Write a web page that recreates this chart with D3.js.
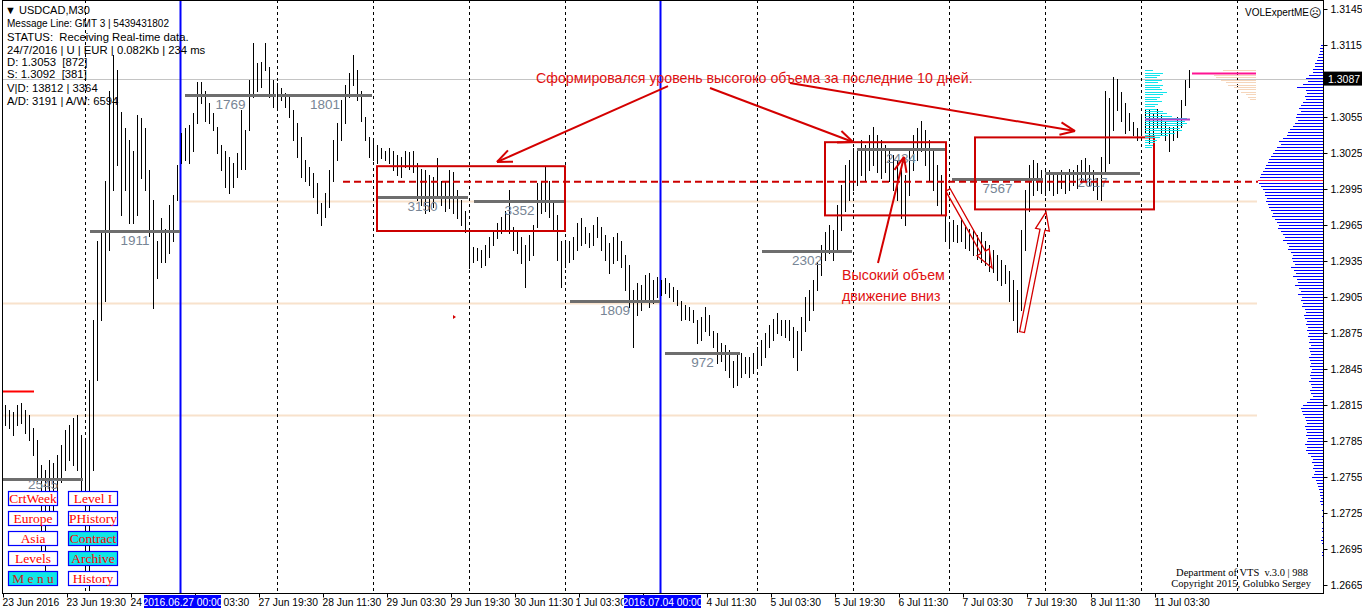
<!DOCTYPE html>
<html><head><meta charset="utf-8">
<script src="https://cdn.jsdelivr.net/npm/d3@7"></script>
<style>
body{margin:0;background:#fff;overflow:hidden}
text{white-space:pre}
</style>
</head><body>
<svg id="c" width="1362" height="612" font-family="Liberation Sans, Arial, sans-serif"></svg>
<script>
// ---------------- DATA ----------------
const symbol = "USDCAD,M30";
const barHigh = [
1.2815,1.2811,1.2809,1.2815,1.2817,1.2811,1.2807,1.2796,1.2786,1.2765,1.2761,1.2769,1.2767,1.2773,1.2782,1.2794,1.2798,1.2804,1.2807,1.2790,
1.2786,1.2836,1.2886,1.2952,1.2961,1.3002,1.3077,1.3107,1.3094,1.3059,1.3046,1.3036,1.3027,1.3057,1.3054,1.3046,1.3011,1.2986,1.2952,1.2971,1.2962,1.2982,1.2990,1.3015,
1.3042,1.3046,1.3048,1.3058,1.3084,1.3084,1.3077,1.3067,1.3058,1.3047,1.3032,1.3027,1.3022,1.3017,1.3025,1.3061,1.3044,1.3086,1.3117,1.3100,1.3101,1.3117,1.3097,1.3086,
1.3083,1.3079,1.3075,1.3072,1.3061,1.3050,1.3038,1.3019,1.3013,1.3008,1.3000,1.2983,1.2992,1.3011,1.3036,1.3050,1.3069,1.3082,1.3092,1.3107,1.3094,1.3077,1.3055,1.3038,
1.3036,1.3032,1.3029,1.3027,1.3029,1.3027,1.3023,1.3022,1.3027,1.3026,1.3027,1.3017,1.3012,1.3011,1.3007,1.3005,1.3021,1.3002,1.3001,1.3011,1.3009,1.2994,1.2986,1.2977,
1.2959,1.2947,1.2946,1.2944,1.2948,1.2955,1.2961,1.2967,1.2972,1.2977,1.2994,1.2963,1.2959,1.2955,1.2948,1.2957,1.2965,1.3000,1.3002,1.3013,1.3002,1.2986,1.2973,1.2952,
1.2950,1.2952,1.2955,1.2967,1.2971,1.2963,1.2958,1.2965,1.2972,1.2963,1.2957,1.2950,1.2955,1.2958,1.2952,1.2940,1.2932,1.2911,1.2917,1.2915,1.2923,1.2925,1.2919,1.2922,
1.2919,1.2921,1.2917,1.2913,1.2911,1.2902,1.2898,1.2897,1.2894,1.2886,1.2888,1.2897,1.2890,1.2877,1.2875,1.2867,1.2865,1.2861,1.2852,1.2857,1.2858,1.2855,1.2855,1.2858,
1.2863,1.2869,1.2875,1.2882,1.2887,1.2892,1.2886,1.2886,1.2886,1.2880,1.2877,1.2888,1.2905,1.2911,1.2919,1.2934,1.2948,1.2959,1.2965,1.2961,1.2982,1.2998,1.3015,1.3019,
1.3029,1.3027,1.3036,1.3032,1.3040,1.3047,1.3040,1.3036,1.3032,1.3027,1.3023,1.3019,1.3011,1.3007,1.3027,1.3040,1.3046,1.3052,1.3044,1.3036,1.3027,1.3015,1.3007,1.2990,
1.2967,1.2969,1.2965,1.2971,1.2965,1.2962,1.2961,1.2957,1.2959,1.2952,1.2948,1.2944,1.2940,1.2936,1.2932,1.2927,1.2919,1.2911,1.2961,1.2994,1.3015,1.3019,1.3017,1.3011,
1.3012,1.3011,1.3009,1.3007,1.3011,1.3009,1.3012,1.3011,1.3015,1.3019,1.3021,1.3015,1.3011,1.3004,1.3022,1.3077,1.3071,1.3088,1.3087,1.3076,1.3067,1.3058,1.3051,1.3046,
1.3057,1.3061,1.3061,1.3058,1.3062,1.3057,1.3052,1.3047,1.3047,1.3055,1.3069,1.3086,1.3094];
const barLow = [
1.2798,1.2796,1.2790,1.2798,1.2800,1.2792,1.2786,1.2773,1.2752,1.2686,1.2676,1.2715,1.2723,1.2744,1.2751,1.2761,1.2769,1.2765,1.2761,1.2744,
1.2673,1.2661,1.2761,1.2836,1.2886,1.2902,1.2944,1.2994,1.3015,1.2973,1.2994,1.2967,1.2967,1.2973,1.3004,1.2994,1.2956,1.2896,1.2921,1.2934,1.2934,1.2942,1.2952,1.2986,
1.3017,1.3019,1.3017,1.3027,1.3050,1.3067,1.3052,1.3050,1.3044,1.3025,1.3011,1.2997,1.2992,1.2997,1.3005,1.3012,1.3012,1.3044,1.3072,1.3077,1.3080,1.3094,1.3072,1.3063,
1.3063,1.3069,1.3063,1.3055,1.3036,1.3022,1.3005,1.3002,1.2998,1.2988,1.2975,1.2965,1.2972,1.2980,1.3002,1.3019,1.3036,1.3050,1.3072,1.3082,1.3069,1.3052,1.3036,1.3022,
1.3019,1.3017,1.3021,1.3019,1.3017,1.3011,1.3007,1.3005,1.3013,1.3012,1.3009,1.2986,1.2982,1.2975,1.2977,1.2980,1.2990,1.2982,1.2977,1.2979,1.2975,1.2971,1.2965,1.2959,
1.2929,1.2934,1.2936,1.2930,1.2932,1.2938,1.2948,1.2954,1.2958,1.2961,1.2958,1.2944,1.2942,1.2933,1.2913,1.2936,1.2940,1.2963,1.2975,1.2977,1.2972,1.2961,1.2936,1.2913,
1.2930,1.2934,1.2937,1.2944,1.2948,1.2950,1.2947,1.2948,1.2955,1.2944,1.2936,1.2925,1.2933,1.2936,1.2930,1.2911,1.2897,1.2863,1.2890,1.2894,1.2902,1.2897,1.2900,1.2905,
1.2907,1.2908,1.2905,1.2902,1.2898,1.2886,1.2887,1.2886,1.2884,1.2867,1.2869,1.2877,1.2873,1.2863,1.2850,1.2852,1.2844,1.2838,1.2830,1.2832,1.2838,1.2842,1.2838,1.2842,
1.2847,1.2848,1.2855,1.2863,1.2869,1.2875,1.2873,1.2872,1.2869,1.2855,1.2844,1.2861,1.2877,1.2886,1.2894,1.2911,1.2923,1.2936,1.2942,1.2936,1.2944,1.2961,1.2977,1.2986,
1.2994,1.2998,1.3007,1.3002,1.3011,1.3015,1.3009,1.3004,1.3009,1.3002,1.2994,1.2986,1.2971,1.2965,1.2990,1.3011,1.3019,1.3027,1.3015,1.3002,1.2994,1.2982,1.2973,1.2952,
1.2948,1.2952,1.2951,1.2952,1.2946,1.2944,1.2940,1.2937,1.2934,1.2932,1.2927,1.2926,1.2919,1.2915,1.2917,1.2902,1.2886,1.2876,1.2894,1.2944,1.2977,1.2990,1.2994,1.2992,
1.2990,1.2994,1.2990,1.2992,1.2996,1.2992,1.2994,1.2998,1.2996,1.3001,1.3002,1.2998,1.2994,1.2987,1.2986,1.3009,1.3017,1.3044,1.3061,1.3052,1.3042,1.3044,1.3040,1.3036,
1.3040,1.3042,1.3033,1.3036,1.3047,1.3040,1.3036,1.3027,1.3036,1.3038,1.3047,1.3065,1.3080];

const priceTicks = [1.3145,1.3115,1.3085,1.3055,1.3025,1.2995,1.2965,1.2935,1.2905,1.2875,1.2845,1.2815,1.2785,1.2755,1.2725,1.2695,1.2665];
const currentPrice = 1.3087;
const timeTickIdx = d3.range(19).map(k => -0.5 + 16 * k);
// labels as they remain visible next to the highlighted week-start boxes
const timeLabels = ["23 Jun 2016","23 Jun 19:30","24","03:30","27 Jun 19:30","28 Jun 11:30","29 Jun 03:30","29 Jun 19:30","30 Jun 11:30","1 Jul 03:30","","4 Jul 11:30","5 Jul 03:30","5 Jul 19:30","6 Jul 11:30","7 Jul 03:30","7 Jul 19:30","8 Jul 11:30","11 Jul 03:30"];
const weekStartIdx = [44, 164];
const weekStartLabels = ["2016.06.27 00:00", "2016.07.04 00:00"];
const daySepIdx = [20,68,92,116,140,188,212,236,260,284,308];

const levelLabels = ["2545","1911","1769","1801","3150","3352","1809","972","2302","2434","7567","2617"];
const levelPrices = [1.2753,1.2960,1.3073,1.3073,1.2988,1.2985,1.2902,1.2858,1.2943,1.3028,1.3003,1.3008];
const levelFrom = [-0.5,21.25,45,68.25,93,117.25,141.25,165,189.25,213,236.75,260];
const levelTo = [19.5,43.75,67.75,91.75,115.75,140,163.75,183.75,211.75,235,259.5,283.75];

const beigePrices = [1.2985, 1.2900, 1.2807];
const beigeFrom = [44, -0.75, -0.75];
const redDashPrice = 1.3001;
const redShortPrice = 1.2827;
const dLevel = 1.3053, sLevel = 1.3092;

const boxFrom = [93, 205, 242.5], boxTo = [140, 235.25, 287.25];
const boxTop = [1.3014, 1.3034, 1.3038], boxBottom = [1.2960, 1.2973, 1.2978];

// long-term volume profile (rows from 1.3115 down, step 0.00025)
const profileTop = 1.3115, profileStep = 0.00025;
const profileVol = [2,3,3,4,5,6,8,8,10,10,14,17,15,20,26,17,16,18,17,20,22,24,22,26,
27,25,28,30,33,35,36,40,44,42,46,48,50,52,54,55,57,58,60,62,63,65,
64,62,60,58,58,56,57,55,54,52,50,51,48,46,44,45,42,40,38,40,36,34,35,32,30,31,
30,28,32,29,27,30,26,25,28,24,22,25,21,
22,20,21,18,17,19,18,16,17,15,16,14,15,13,14,12,14,13,12,14,13,12,13,11,12,13,12,14,12,11,13,12,10,13,
16,20,22,21,20,18,17,16,18,17,16,17,15,16,18,16,17,15,12,10,11,9,10,8,9,11,7,6,5,4,3,3,2,3,2,
0,1,0,1,0,1,0,1,1,0,1,2,1,0,0,1,1];
// current-day profile (rows from 1.3094 down, step 0.0002)
const dayTop = 1.3094, dayStep = 0.0002;
const dayVol = [8,18,15,12,17,13,18,15,17,22,18,15,12,17,13,10,12,18,22,27,42,40,42,38,35,37,30,23,15,12,10,8,7];
const prevVol = [33,45,42,40,35,30,28,22,18,15,10,8,6];

const infoLines = ["STATUS:  Receiving Real-time data.","24/7/2016 | U | EUR | 0.082Kb | 234 ms","D: 1.3053  [872]","S: 1.3092  [381]","V|D: 13812 | 3364","A/D: 3191 | A/W: 6594"];
const buttonNames = ["CrtWeek","Level I","Europe","PHistory","Asia","Contract","Levels","Archive","M e n u","History"];
const buttonOn = [0,0,0,0,0,1,0,1,1,0];

// annotations in data units [index, price]
const arrows = [[[165.75,1.30808],[123,1.30175]],[[176.25,1.30792],[212,1.30342]],[[196.25,1.30833],[267.5,1.30433]],[[218.25,1.29333],[224.75,1.30217]]];
const hollowArrows = [[[235.75,1.29942],[246.75,1.29292]],[[254.25,1.28758],[260.25,1.29758]]];
const noteMain = "Сформировался уровень высогоко объема за последние 10 дней.";
const noteLow = ["Высокий объем","движение вниз"];

// ---------------- DRAW ----------------
const SANS = "Liberation Sans, Arial, sans-serif", SERIF = "Liberation Serif, Times New Roman, serif";
const svg = d3.select("#c");
const W = 1362, H = 612, axisX = 1323, axisY = 593;
const x = d3.scaleLinear().domain([0, 296]).range([5, 1189]);
const y = d3.scaleLinear().domain([1.2665, 1.3145]).range([585, 9]);
const px = v => Math.round(x(v)) + 0.5;
const py = v => Math.round(y(v)) + 0.5;
const RED = "#d40000";

svg.append("rect").attr("width", W).attr("height", H).attr("fill", "#fff");
const plot = svg.append("g");

// beige levels
beigePrices.forEach((p, i) => {
  plot.append("line").attr("x1", x(beigeFrom[i])).attr("x2", 1257)
    .attr("y1", py(p)).attr("y2", py(p)).attr("stroke", "#f8e2cc").attr("stroke-width", 2);
});
// current price line
plot.append("line").attr("x1", 2).attr("x2", axisX).attr("y1", py(currentPrice)).attr("y2", py(currentPrice))
  .attr("stroke", "#c4c4c4").attr("stroke-width", 1);

// day separators
plot.selectAll(".sep").data(daySepIdx).join("line")
  .attr("x1", d => px(d)).attr("x2", d => px(d)).attr("y1", 0).attr("y2", axisY)
  .attr("stroke", "#000").attr("stroke-dasharray", "3,3").attr("stroke-width", 1);
plot.selectAll(".wk").data(weekStartIdx).join("line")
  .attr("x1", d => Math.round(x(d)) - 0.5).attr("x2", d => Math.round(x(d)) - 0.5).attr("y1", 0).attr("y2", axisY)
  .attr("stroke", "#0000ff").attr("stroke-width", 2);

// price bars
plot.append("g").attr("shape-rendering", "crispEdges").selectAll("line").data(barHigh).join("line")
  .attr("x1", (d, i) => px(i)).attr("x2", (d, i) => px(i))
  .attr("y1", d => y(d)).attr("y2", (d, i) => y(barLow[i]) + 1)
  .attr("stroke", "#000").attr("stroke-width", 1);

// level lines
levelPrices.forEach((p, i) => {
  plot.append("line").attr("x1", x(levelFrom[i])).attr("x2", x(levelTo[i]))
    .attr("y1", py(p)).attr("y2", py(p)).attr("stroke", "#6e6e6e").attr("stroke-width", 3);
  plot.append("text").attr("x", (x(levelFrom[i]) + x(levelTo[i])) / 2).attr("y", Math.min(y(p) + 14, 489))
    .attr("text-anchor", "middle").attr("font-size", 13.5).attr("fill", "#778595").text(levelLabels[i]);
});

// small marker
plot.append("path").attr("d", `M${x(112)},${y(1.28883)-2} l3,2 l-3,2 z`).attr("fill", RED);

// red boxes
boxFrom.forEach((b, i) => {
  plot.append("rect").attr("x", x(b)).attr("y", y(boxTop[i]))
    .attr("width", x(boxTo[i]) - x(b)).attr("height", y(boxBottom[i]) - y(boxTop[i]))
    .attr("fill", "none").attr("stroke", "#cc0000").attr("stroke-width", 2);
});
// red dashed line
plot.append("line").attr("x1", x(84.5)).attr("x2", x(313.25)).attr("y1", y(redDashPrice)).attr("y2", y(redDashPrice))
  .attr("stroke", "#cc0000").attr("stroke-width", 2).attr("stroke-dasharray", "7,4");
plot.append("line").attr("x1", x(-0.5)).attr("x2", x(7.25)).attr("y1", py(redShortPrice)).attr("y2", py(redShortPrice))
  .attr("stroke", "#ff0000").attr("stroke-width", 2);

// long-term volume profile (right aligned at axis)
const vx = d3.scaleLinear().domain([0, 65]).range([0, 65]);
const prof = plot.append("g").attr("shape-rendering", "crispEdges");
const pocIdx = profileVol.indexOf(d3.max(profileVol));
profileVol.forEach((v, k) => {
  if (!v) return;
  const yy = Math.round(y(profileTop - k * profileStep)) + 0.5;
  prof.append("line").attr("x1", axisX - vx(v)).attr("x2", axisX).attr("y1", yy).attr("y2", yy)
    .attr("stroke", k === pocIdx ? "#ff2050" : "#0000ff").attr("stroke-width", 1);
});
// current day profile
dayVol.forEach((v, k) => {
  const yy = Math.round(y(dayTop - k * dayStep)) + 0.5;
  prof.append("line").attr("x1", x(285)).attr("x2", x(285) + vx(v)).attr("y1", yy).attr("y2", yy)
    .attr("stroke", "#10e4ec").attr("stroke-width", 1);
});
prevVol.forEach((v, k) => {
  const yy = Math.round(y(dayTop - k * dayStep)) + 0.5;
  prof.append("line").attr("x1", x(312.75) - vx(v)).attr("x2", x(312.75)).attr("y1", yy).attr("y2", yy)
    .attr("stroke", "#f5d6bc").attr("stroke-width", 1);
});
plot.append("line").attr("x1", x(296.75)).attr("x2", x(312.75)).attr("y1", py(sLevel)).attr("y2", py(sLevel))
  .attr("stroke", "#ff1493").attr("stroke-width", 2);
plot.append("line").attr("x1", x(285)).attr("x2", x(296.25)).attr("y1", py(dLevel)).attr("y2", py(dLevel))
  .attr("stroke", "#b040c8").attr("stroke-width", 2);

// annotations
const ann = svg.append("g");
function arrow(a, b) {
  const x1 = x(a[0]), y1 = y(a[1]), x2 = x(b[0]), y2 = y(b[1]);
  ann.append("line").attr("x1", x1).attr("y1", y1).attr("x2", x2).attr("y2", y2).attr("stroke", RED).attr("stroke-width", 2);
  const ang = Math.atan2(y2 - y1, x2 - x1), L = 16;
  [-0.4, 0.4].forEach(s => {
    ann.append("line").attr("x1", x2).attr("y1", y2)
      .attr("x2", x2 - L * Math.cos(ang + s)).attr("y2", y2 - L * Math.sin(ang + s))
      .attr("stroke", RED).attr("stroke-width", 2);
  });
}
arrows.forEach(a => arrow(a[0], a[1]));
function hollow(a, b) {
  const x1 = x(a[0]), y1 = y(a[1]), x2 = x(b[0]), y2 = y(b[1]);
  const L = Math.hypot(x2 - x1, y2 - y1), ux = (x2 - x1) / L, uy = (y2 - y1) / L, nx = -uy, ny = ux;
  const pts = [[0,-2.5],[L-18,-2.5],[L-18,-7],[L,0],[L-18,7],[L-18,2.5],[0,2.5]]
    .map(([t, s]) => [x1 + ux * t + nx * s, y1 + uy * t + ny * s]);
  ann.append("path").attr("d", "M" + pts.map(p => p.join(",")).join("L") + "Z")
    .attr("fill", "none").attr("stroke", RED).attr("stroke-width", 1.3);
}
hollowArrows.forEach(a => hollow(a[0], a[1]));
ann.append("text").attr("x", x(132.75)).attr("y", y(1.30833)).attr("font-size", 14.2).attr("fill", "#e01010").text(noteMain);
noteLow.forEach((t, i) => ann.append("text").attr("x", x(209.25)).attr("y", y(i ? 1.29017 : 1.29192))
  .attr("font-size", 14.2).attr("fill", "#e01010").text(t));

// info text (top-left)
const info = svg.append("g").attr("fill", "#000");
info.append("text").attr("x", 5).attr("y", 14).attr("font-size", 11).text("\u25BC " + symbol);
info.append("text").attr("x", 7).attr("y", 27).attr("font-size", 10).text("Message Line: GMT 3 | 5439431802");
const infoY = [41, 54, 66, 78, 92, 105];
infoLines.forEach((t, i) => info.append("text").attr("x", 7).attr("y", infoY[i]).attr("font-size", 11.3).text(t));

// top-right label
svg.append("text").attr("x", 1245).attr("y", 16).attr("font-size", 10).attr("fill", "#000").text("VOLExpertME");
svg.append("text").attr("x", 1309).attr("y", 17).attr("font-size", 12).attr("font-family", "DejaVu Sans").attr("fill", "#000").text("\u2639");

// bottom-right credits
const cred = svg.append("g").attr("font-family", SERIF).attr("font-size", 10.5).attr("fill", "#000").attr("text-anchor", "end");
cred.append("text").attr("x", 1308).attr("y", 576).text("Department of VTS  v.3.0 | 988");
cred.append("text").attr("x", 1311).attr("y", 587).text("Copyright 2015, Golubko Sergey");

// buttons
const btn = svg.append("g");
buttonNames.forEach((n, i) => {
  const col = i % 2, row = Math.floor(i / 2);
  const bx = 8 + col * 60, by = 491 + row * 20;
  btn.append("rect").attr("x", bx + 0.5).attr("y", by + 0.5).attr("width", 49).attr("height", 14)
    .attr("fill", buttonOn[i] ? "#10e6e6" : "#fff").attr("stroke", "#0000ff").attr("stroke-width", 1.2);
  btn.append("text").attr("x", bx + 25).attr("y", by + 12).attr("text-anchor", "middle")
    .attr("font-family", SERIF).attr("font-size", 13.5)
    .attr("fill", buttonOn[i] && n === "M e n u" ? "#c82020" : "#ff0000").text(n);
});

// axes
const yAxis = d3.axisRight(y).tickValues(priceTicks).tickFormat(d3.format(".4f")).tickSize(4).tickPadding(3);
const ga = svg.append("g").attr("transform", `translate(${axisX + 0.5},0)`).call(yAxis);
ga.select(".domain").remove();
ga.attr("font-family", SANS).attr("font-size", 10.5);
ga.selectAll("text").attr("fill", "#000");
ga.selectAll("line").attr("stroke", "#000");

const xAxis = d3.axisBottom(x).tickValues(timeTickIdx).tickFormat((d, i) => timeLabels[i]).tickSize(4).tickPadding(1);
const gx = svg.append("g").attr("transform", `translate(0,${axisY + 0.5})`).call(xAxis);
gx.select(".domain").remove();
gx.attr("font-family", SANS).attr("font-size", 10.3);
gx.selectAll("text").attr("text-anchor", "start")
  .attr("x", (d, i) => timeLabels[i] === "03:30" ? 28 : (i === 9 ? -4 : -1)).attr("fill", "#000");
gx.selectAll("line").attr("stroke", "#000");

// highlighted week start labels
weekStartIdx.forEach((d, i) => {
  const cx = x(d);
  svg.append("rect").attr("x", cx - 37).attr("y", 595).attr("width", 77).attr("height", 13).attr("fill", "#0000ff");
  svg.append("text").attr("x", cx + 1.5).attr("y", 605.5).attr("text-anchor", "middle").attr("font-size", 10.3)
    .attr("fill", "#fff").text(weekStartLabels[i]);
});

// current price tag
svg.append("rect").attr("x", axisX + 1).attr("y", y(currentPrice) - 7).attr("width", 39).attr("height", 14).attr("fill", "#000");
svg.append("text").attr("x", axisX + 5).attr("y", y(currentPrice) + 4).attr("font-size", 10.5).attr("fill", "#fff")
  .text(d3.format(".4f")(currentPrice));

// frame
const fr = svg.append("g").attr("stroke", "#000").attr("stroke-width", 1).attr("shape-rendering", "crispEdges");
fr.append("line").attr("x1", 2.5).attr("x2", 2.5).attr("y1", 0).attr("y2", axisY + 0.5);
fr.append("line").attr("x1", 2).attr("x2", axisX + 1).attr("y1", axisY + 0.5).attr("y2", axisY + 0.5);
fr.append("line").attr("x1", axisX + 0.5).attr("x2", axisX + 0.5).attr("y1", 0).attr("y2", axisY + 0.5);
fr.append("line").attr("x1", 2).attr("x2", axisX + 1).attr("y1", 0.5).attr("y2", 0.5);
</script>
</body></html>
